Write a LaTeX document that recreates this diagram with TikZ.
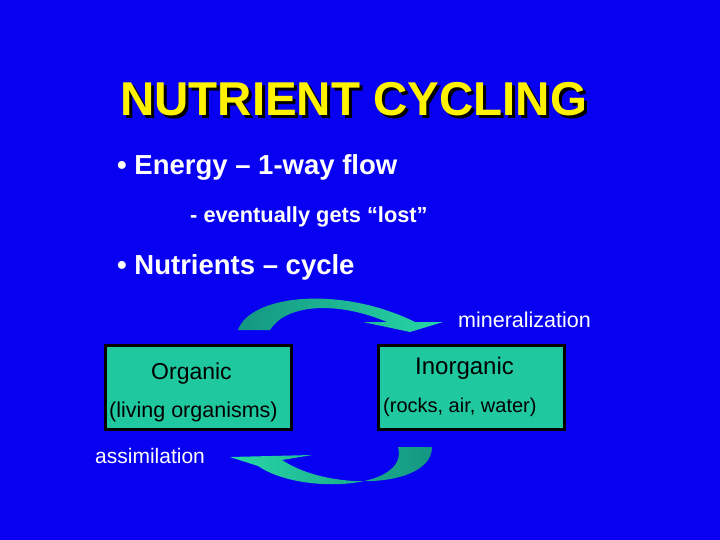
\documentclass[tikz,border=0pt]{standalone}
\usepackage{fontspec}
\setmainfont{Liberation Sans}
\begin{document}
\begin{tikzpicture}[x=1pt,y=-1pt,
  box/.style={draw=black,line width=2.5pt,fill={rgb,255:red,32;green,200;blue,160},minimum width=186pt,minimum height=84pt,anchor=north west},
  txt/.style={text=white,font=\bfseries,anchor=west,inner sep=0pt},
  lab/.style={text=black,anchor=west,inner sep=0pt}]
\definecolor{bg}{RGB}{8,0,240}
\definecolor{tealA}{RGB}{20,150,130}
\definecolor{tealB}{RGB}{40,215,165}
\useasboundingbox (0,0) rectangle (720,540);
\fill[bg] (0,0) rectangle (720,540);
\node[text=black,font=\bfseries\fontsize{47.5}{50}\selectfont,anchor=west,inner sep=0pt] at (123,102) {NUTRIENT CYCLING};
\node (title) [text=yellow,font=\bfseries\fontsize{47.5}{50}\selectfont,anchor=west,inner sep=0pt] at (120,99) {NUTRIENT CYCLING};
\node (l1) [txt,font=\bfseries\fontsize{27.5}{30}\selectfont] at (117,167) {• Energy – 1-way flow};
\node (l2) [txt,font=\bfseries\fontsize{21.8}{28}\selectfont] at (190,217) {- eventually gets “lost”};
\node (l3) [txt,font=\bfseries\fontsize{27.5}{30}\selectfont] at (117,267) {• Nutrients – cycle};
\node (org) [box] at (104,344) {};
\node (inorg) [box] at (377,344) {};
\node[lab,font=\fontsize{23}{24}\selectfont] at (151,374) {Organic};
\node[lab,font=\fontsize{21.5}{22}\selectfont] at (109,412) {(living organisms)};
\node[lab,font=\fontsize{24}{26}\selectfont] at (415,368) {Inorganic};
\node[lab,font=\fontsize{20}{22}\selectfont] at (383,407) {(rocks, air, water)};
\node (min) [txt,font=\fontsize{21.5}{22}\selectfont,text=white] at (458,320) {mineralization};
\node (ass) [txt,font=\fontsize{21}{22}\selectfont,text=white] at (95,456) {assimilation};
% top arrow
\shade[left color=tealA,right color=tealB]
 (238,330) .. controls (250,295) and (340,285) .. (415,322)
 -- (443,322) -- (410,332) -- (363,322) -- (387,322)
 .. controls (335,300) and (285,305) .. (270,330) -- cycle;
% bottom arrow
\shade[left color=tealB,right color=tealA]
 (432,447) .. controls (432,488) and (330,492) .. (282,460)
 -- (312,455) -- (230,457) -- (258,466)
 .. controls (300,495) and (410,490) .. (398,447) -- cycle;
\end{tikzpicture}
\end{document}
